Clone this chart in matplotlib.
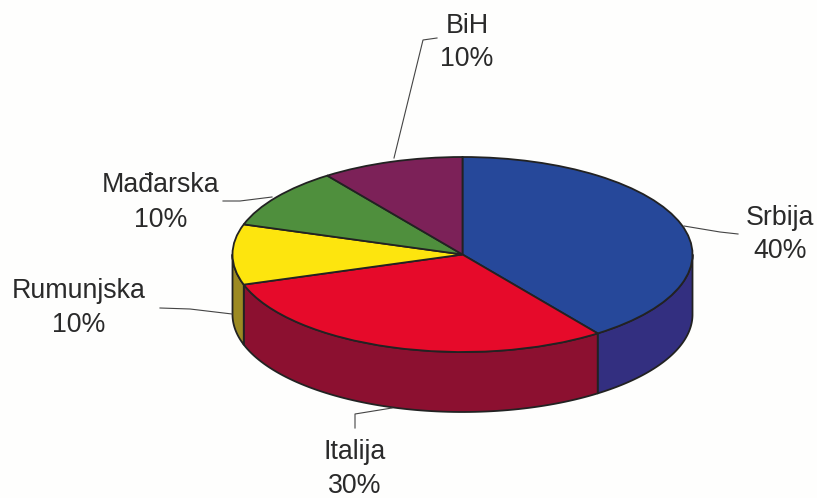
#!/usr/bin/env python3
"""Tilted 3D-look pie chart, drawn from a flat pie squashed by the axes limits."""

import matplotlib
matplotlib.use("Agg")
import matplotlib.pyplot as plt
import numpy as np

plt.rcParams["font.family"] = ["Liberation Sans", "DejaVu Sans"]

categories = ["Srbija", "Italija", "Rumunjska", "Mađarska", "BiH"]
values = [40, 30, 10, 10, 10]
top_colors = ["#26489a", "#e60a2a", "#fde50e", "#4f8f3d", "#7c2158"]
side_colors = ["#332f80", "#8c1030", "#9c8a22", "#35602a", "#521038"]

W, H = 817, 498
CX, CY = 462.5, 254.5   # pie centre, px
RX, RY = 230, 97.5      # ellipse radii, px
DEPTH = 60 / RY         # thickness in axes units
EDGE = "#222222"

# label centre px (x, name y, percent y) and leader line px
label_pos = {
    "Srbija": (780, 218, 251),
    "Italija": (355, 452, 486),
    "Rumunjska": (79, 291, 325),
    "Mađarska": (161, 185, 220),
    "BiH": (467, 26, 59),
}
leaders = {
    "Srbija": [(684, 226), (720, 232), (738, 234)],
    "Italija": [(355, 428), (355, 414), (392, 408)],
    "Rumunjska": [(160, 308), (190, 309), (232, 314)],
    "Mađarska": [(223, 201), (240, 201), (272, 197)],
    "BiH": [(394, 158), (423, 40), (437, 38)],
}


def px(x, y):
    return x / W, 1 - y / H


fig = plt.figure(figsize=(W / 100, H / 100), dpi=100, facecolor="#fefefd")
ax = fig.add_axes([0, 0, 1, 1])

# slice edges, clockwise from 12 o'clock
ends = np.cumsum(values) / np.sum(values)
starts = np.r_[0, ends[:-1]]

# side wall: only the part of each slice on the front half of the ellipse
for st, en, col in zip(starts, ends, side_colors):
    a0 = 90 - 360 * en
    a1 = 90 - 360 * st
    a0, a1 = max(a0, -180), min(a1, 0)
    if a0 >= a1:
        continue
    t = np.radians(np.linspace(a0, a1, 80))
    xs = np.cos(t)
    ys = np.sin(t)
    ax.fill(np.r_[xs, xs[::-1]], np.r_[ys, ys[::-1] - DEPTH],
            facecolor=col, edgecolor=EDGE, lw=1.3, joinstyle="round")

ax.pie(values, colors=top_colors, startangle=90, counterclock=False,
       wedgeprops={"edgecolor": EDGE, "linewidth": 1.3})

# pie() forces equal aspect, undo it so the circle becomes the ellipse
ax.set_aspect("auto")
ax.set_xlim(-CX / RX, (W - CX) / RX)
ax.set_ylim(-(H - CY) / RY, CY / RY)
ax.axis("off")

for name, val in zip(categories, values):
    x, y1, y2 = label_pos[name]
    fig.text(*px(x, y1), name, ha="center", va="center",
             fontsize=19.3, color="#2a2a2a")
    fig.text(*px(x, y2), f"{val}%", ha="center", va="center",
             fontsize=19.3, color="#2a2a2a")
    pts = np.array([px(*p) for p in leaders[name]])
    fig.add_artist(plt.Line2D(pts[:, 0], pts[:, 1], color="#444444", lw=0.8))

fig.savefig("out.png", dpi=100, facecolor=fig.get_facecolor())
